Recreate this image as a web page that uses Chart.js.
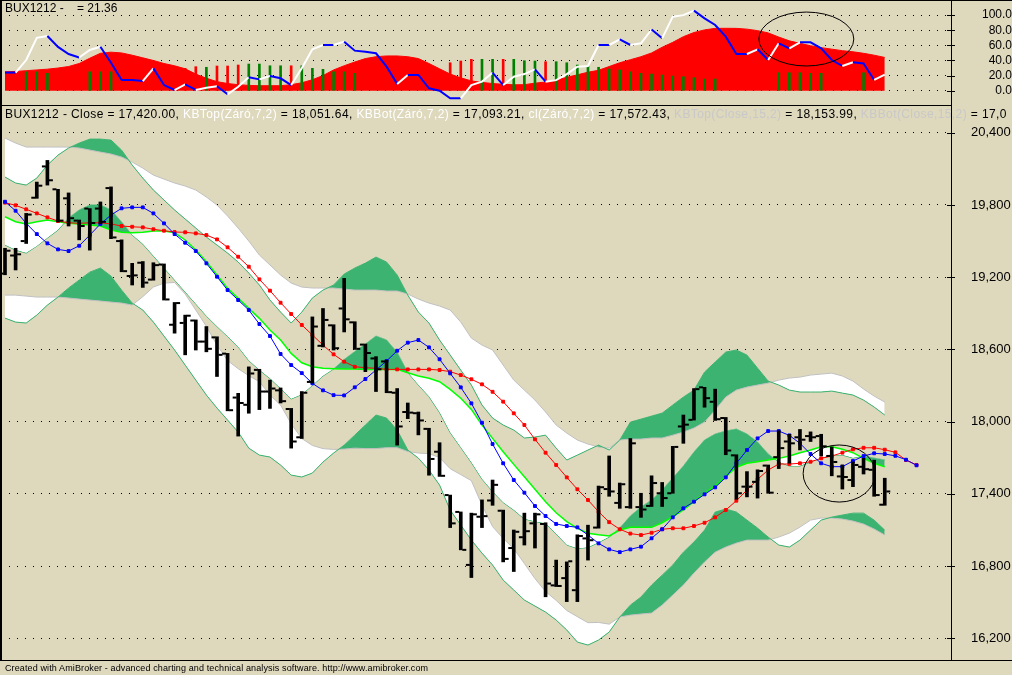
<!DOCTYPE html>
<html><head><meta charset="utf-8">
<script src="https://cdn.jsdelivr.net/npm/chart.js@4.4.1/dist/chart.umd.min.js"></script>
<style>
html,body{margin:0;padding:0;background:#ded8bd;width:1012px;height:675px;overflow:hidden;font-family:"Liberation Sans",Arial,sans-serif;}
canvas{position:absolute;left:0;}
#topc{top:0;}
#mainc{top:105px;}
.ln{position:absolute;background:#000;}
.hdr{position:absolute;white-space:nowrap;font-size:12px;line-height:14px;color:#000;}
.w{color:#ffffff;}
.s{color:#c8c8c8;}
#foot{position:absolute;left:5px;top:662px;font-size:9px;line-height:12px;letter-spacing:0.12px;white-space:nowrap;color:#000;}
</style></head>
<body>
<canvas id="topc" width="1012" height="106"></canvas>
<canvas id="mainc" width="1012" height="556"></canvas>
<div class="ln" style="left:0;top:0;width:1012px;height:1px"></div>
<div class="ln" style="left:0;top:0;width:2px;height:661px"></div>
<div class="ln" style="left:0;top:105px;width:951px;height:1px"></div>
<div class="ln" style="left:0;top:660px;width:1012px;height:1px"></div>
<div class="ln" style="left:951px;top:0;width:1px;height:661px"></div>
<div class="hdr" style="left:5px;top:1px;">BUX1212 -</div>
<div class="hdr" style="left:77px;top:1px;">= 21.36</div>
<div class="hdr" style="left:5px;top:107px;letter-spacing:0.4px;">BUX1212 - Close = 17,420.00, <span class="w">KBTop(Záró,7,2)</span> = 18,051.64, <span class="w">KBBot(Záró,7,2)</span> = 17,093.21, <span class="w">cl(Záró,7,2)</span> = 17,572.43, <span class="s">KBTop(Close,15,2)</span> = 18,153.99, <span class="s">KBBot(Close,15,2)</span> = 17,0</div>
<div id="foot">Created with AmiBroker - advanced charting and technical analysis software. http://www.amibroker.com</div>
<script>
// ---------- top panel data ----------
const redArea = [25,25.5,26.5,27.5,28.5,30,32,36,43,49.5, 51,50,47,43.5,40,36,33,29,22,16.5,
 12,9.5,8,7,6.6,6.6,6.6,8,10.5,14.5, 20,27.5,33,38,42.5,45,46,46,45,42.5,
 36,29,22,17,13,11,9.5,8.5,7.8,8, 10,11.5,14,17.7,21,24.5,27,32,37,41,
 45,50,57.5,64,71.5,77,80.5,82.5,82.6,82.5, 81.5,79.5,76.5,71,66,62.7,59.5,57,55,53,
 51.5,49.5,47,44];
const osc = [24,24,40.6,70,72.4,58,48.6,44,53.9,58.2, 37,14.2,14.2,12.8,29.6,7.5,0.9,8.4,1,4,
 6,-4.8,5.3,17.7,15,19.5,16.4,7.5,29.6,54.8, 60.5,60.5,64.9,53,51.6,49.5,31.8,8.9,20.8,20.8,
 3.2,0,-10,-10,7.5,12,23.8,7.5,18.5,22, 28.3,12,14,22,31.8,32.7,60.5,60.5,68,60.5,
 62.7,81,69.3,98,100,106,95.8,87,71.5,48.6, 48.6,54.8,40.6,62.7,56,64,64,56,40.6,32.7,
 37.6,36,14.2,21.36];
const histIdx = [2,3,4,8,9,10,17,18,19,20,21,22,23,24,25,26,27,28,29,30,31,32,33,42,43,44,45,46,47,48,49,50,51,52,53,54,55,56,57,58,59,60,61,62,63,64,65,66,67,73,74,75,76,77,81];
const histVal = [25,25,23,25,25,25,29.6,31.8,31,32.7,32.7,34,35.3,35.3,33,33,33,33,29.6,28.3,25,25,23,37,39.3,41.5,41.5,41.5,41.5,41.5,39.7,39.3,38.4,38.4,37,34,32.7,31,28.7,27.4,25,23,22,20.8,19.4,18.5,17.2,15.5,15.5,23.8,23.8,23.8,23,23,23.8];
const histDir = [1,1,1,1,1,1,-1,-1,1,-1,-1,-1,1,1,1,1,-1,1,1,1,1,1,1,-1,-1,-1,1,1,-1,1,1,1,-1,1,1,1,1,1,1,1,1,1,1,1,1,1,1,1,1,1,1,1,1,1,1];
const topTicks = [0,20,40,60,80,100];

// ---------- main panel data ----------
const open = [19230,19380,19500,19860,20120,19930,19855,19670,19770,19770, 19940,19500,19210,19320,19180,19305,18805,18820,18840,18665,
 18700,18565,18200,18140,18430,18250,18260,18105,17870,18330, 18630,18800,18940,18825,18640,18525,18500,18240,18080,18070,
 17940,17750,17390,17250,16810,17210,17345,17260,16950,17040, 17155,17150,16640,16700,16600,17030,17120,17440,17325,17290,
 17290,17300,17405,17405,17960,18015,18285,18165,18030,17720, 17460,17500,17635,17705,17835,17870,17880,17880,17715,17545,
 17515,17625,17600,17310];
const high = [19440,19440,19730,19990,20170,19930,19900,19675,19770,19825, 19950,19510,19315,19330,19320,19310,18990,18885,18845,18790,
 18705,18567,18235,18455,18435,18345,18280,18110,18250,18870, 18940,18805,19190,18830,18645,18540,18510,18275,18155,18080,
 17945,17825,17390,17250,17240,17350,17515,17265,17100,17240, 17240,17160,16850,16835,17060,17140,17465,17715,17490,17860,
 17405,17550,17495,17795,18055,18275,18285,18270,18035,17725, 17585,17600,17640,17925,17895,17935,17915,17895,17790,17640,
 17665,17695,17680,17530];
const low = [19220,19260,19480,19855,19965,19660,19625,19510,19425,19645, 19520,19245,19135,19115,19175,19010,18735,18555,18595,18580,
 18375,18090,17880,18070,18100,18110,18155,17780,17860,18320, 18620,18595,18745,18600,18415,18250,18240,17805,18025,17890,
 17555,17545,17120,16935,16705,17120,17305,16835,16755,16975, 16950,16545,16630,16505,16505,16850,17115,17380,17280,17280,
 17205,17295,17295,17405,17820,18013,18120,18010,17725,17355, 17375,17365,17405,17610,17655,17765,17835,17715,17550,17440,
 17460,17565,17380,17305];
const close = [19420,19390,19720,19960,20005,19670,19690,19625,19650,19660, 19530,19250,19215,19155,19300,19015,18985,18880,18665,18605,
 18555,18095,18155,18400,18250,18275,18170,17835,18240,18790, 18845,18610,18850,18605,18570,18435,18245,17960,18075,18010,
 17690,17550,17155,16935,17230,17215,17475,16860,17085,17090, 17230,16655,16635,16840,17050,17015,17455,17420,17480,17820,
 17270,17490,17365,17790,17975,18270,18195,18020,17760,17405, 17460,17590,17410,17780,17820,17850,17870,17795,17665,17540,
 17640,17605,17390,17420];
const blueLine = [19827,19752,19647,19558,19481,19431,19417,19461,19550,19642, 19716,19772,19780,19780,19730,19647,19558,19486,19417,19315,
 19204,19093,19010,18927,18811,18711,18562,18470,18403,18318, 18260,18220,18218,18285,18354,18429,18504,18589,18656,18678,
 18617,18518,18401,18285,18152,17991,17814,17654,17515,17410, 17299,17216,17150,17133,17122,17058,16989,16939,16916,16939,
 16961,17031,17106,17205,17280,17335,17396,17454,17537,17654, 17764,17861,17922,17922,17886,17820,17731,17654,17626,17626,
 17673,17714,17737,17731,17716,17684,17637];
const redLine = [19819,19797,19764,19730,19697,19666,19652,19647,19652,19652, 19642,19625,19619,19614,19598,19586,19575,19573,19564,19550,
 19514,19448,19370,19287,19182,19088,18988,18894,18803,18720, 18636,18559,18498,18456,18448,18443,18434,18434,18434,18434,
 18434,18429,18415,18387,18352,18310,18248,18166,18069,17972, 17853,17742,17640,17537,17438,17349,17252,17165,17106,17070,
 17058,17077,17106,17114,17114,17133,17160,17205,17266,17343, 17432,17521,17598,17648,17648,17654,17667,17695,17714,17742,
 17770,17783,17783,17767,17745,17681,17640];
const greenLine = [19702,19661,19642,19661,19675,19661,19647,19642,19633,19625, 19592,19573,19569,19573,19583,19583,19569,19509,19426,19328,
 19218,19107,19024,18941,18858,18761,18678,18567,18489,18456, 18443,18440,18437,18437,18434,18434,18434,18434,18406,18379,
 18360,18332,18268,18194,18102,17972,17861,17750,17645,17542, 17438,17335,17243,17169,17114,17072,17060,17050,17100,17122,
 17122,17122,17160,17210,17266,17335,17405,17466,17543,17621, 17654,17667,17681,17695,17714,17742,17764,17792,17792,17770,
 17742,17695,17654,17626];
const midB = [19467,19425,19400,19458,19525,19591,19691,19758,19799,19799, 19758,19658,19550,19475,19375,19276,19176,19076,18977,18877,
 18790,18707,18620,18507,18428,18358,18275,18188,18225,18300, 18379,18437,18516,18582,18644,18711,18678,18574,18408,18304,
 18208,18075,17909,17785,17660,17523,17419,17328,17265,17191, 17170,17153,17066,16975,16946,16954,16996,17041,17116,17216,
 17290,17348,17432,17531,17631,17747,17847,17897,17922,17938, 17897,17830,17731,17664,17631,17631,17664,17697,17722,17722,
 17697,17714,17697,17681];
const upA = [20356,20314,20281,20281,20281,20281,20281,20273,20256,20239, 20223,20198,20156,20106,20048,20015,19982,19957,19924,19866,
 19799,19708,19608,19500,19384,19301,19218,19151,19118,19110, 19110,19110,19101,19093,19093,19093,19085,19085,19060,19018,
 18985,18960,18927,18827,18694,18636,18595,18470,18345,18262, 18179,18080,17972,17905,17847,17814,17789,17780,17847,17855,
 17855,17864,17864,17888,17913,17947,17996,18096,18204,18262, 18287,18304,18320,18345,18362,18370,18387,18395,18403,18379,
 18337,18271,18212,18163];
const upB = [20032,19982,19965,20023,20131,20214,20273,20314,20347,20347, 20339,20256,20131,20023,19924,19841,19758,19683,19608,19533,
 19467,19400,19326,19234,19135,19010,18910,18819,18910,19027, 19093,19135,19226,19276,19317,19367,19326,19218,19051,18910,
 18819,18678,18553,18428,18304,18138,18030,17972,17930,17864, 17872,17888,17780,17681,17722,17764,17805,17764,17847,17996,
 18021,18046,18071,18138,18204,18262,18412,18495,18578,18595, 18553,18445,18337,18304,18262,18246,18246,18246,18254,18237,
 18221,18179,18121,18055];
const loA = [19051,19051,19043,19035,19035,19035,19027,19018,19010,19002, 18993,18985,18968,19038,19118,19151,19156,19060,18927,18791,
 18636,18507,18440,18382,18332,18221,18138,17983,17860,17802, 17776,17769,17772,17780,17776,17776,17784,17784,17752,17739,
 17734,17702,17609,17560,17510,17307,17128,17030,16945,16822, 16696,16589,16515,16431,16380,16330,16332,16318,16377,16393,
 16402,16410,16476,16559,16642,16742,16834,16916,16958,16991, 17016,17016,17016,17041,17074,17124,17182,17199,17199,17191,
 17174,17149,17108,17058];
const loB = [18860,18827,18819,18885,18968,19035,19110,19176,19242,19276, 19209,19093,18985,18927,18827,18711,18595,18470,18345,18221,
 18113,18013,17913,17780,17722,17706,17639,17556,17540,17573, 17664,17739,17805,17888,17972,18055,18030,17930,17764,17697,
 17598,17473,17265,17141,17016,16908,16809,16684,16601,16518, 16468,16418,16352,16269,16169,16144,16186,16252,16377,16476,
 16543,16642,16725,16809,16916,17000,17099,17249,17274,17249, 17182,17116,17041,16975,16958,17016,17099,17182,17207,17224,
 17240,17240,17182,17099];
const mainTicks = [16200,16800,17400,18000,18600,19200,19800,20400];

// ---------- helpers ----------
Chart.defaults.font.family = '"Liberation Sans", Arial, sans-serif';
const pts = arr => arr.map((v, i) => ({x: i, y: v}));
const SEA = '#3cb371';

const ohlcTicks = {
  id: 'ohlcTicks',
  afterDatasetsDraw(chart) {
    const {ctx, scales: {x, y}} = chart;
    ctx.save();
    ctx.fillStyle = '#000';
    for (let i = 0; i < close.length; i++) {
      const px = x.getPixelForValue(i);
      ctx.fillRect(px - 5.5, y.getPixelForValue(open[i]) - 1, 4, 2);
      ctx.fillRect(px + 1.5, y.getPixelForValue(close[i]) - 1, 4, 2);
    }
    ctx.restore();
  }
};
const axisMarks = {
  id: 'axisMarks',
  afterDraw(chart) {
    const {ctx} = chart; const s = chart.scales.y;
    ctx.save(); ctx.fillStyle = '#000';
    s.ticks.forEach(t => { const py = Math.round(s.getPixelForValue(t.value)); ctx.fillRect(s.left - 4, py, 8, 1); });
    ctx.restore();
  }
};
const ring = {
  id: 'ring',
  afterDraw(chart, args, o) {
    if (o.cx == null) return;
    const {ctx, scales: {x, y}} = chart;
    const cx = x.getPixelForValue(o.cx), cy = y.getPixelForValue(o.cy);
    const rx = Math.abs(x.getPixelForValue(o.cx + o.rx) - cx), ry = Math.abs(y.getPixelForValue(o.cy + o.ry) - cy);
    ctx.save(); ctx.strokeStyle = '#000'; ctx.lineWidth = 1;
    ctx.beginPath(); ctx.ellipse(cx, cy, rx, ry, 0, 0, Math.PI * 2); ctx.stroke(); ctx.restore();
  }
};
const fitY = s => { s.width = 61; s.paddingTop = 0; s.paddingBottom = 0; };
const xScale = { type: 'linear', display: false, min: -0.377, max: 89.25, offset: false, grid: {offset: false}, grace: 0 };

// ---------- top chart ----------
new Chart(document.getElementById('topc'), {
  type: 'line',
  data: { datasets: [
    { data: pts(osc), borderWidth: 2, pointRadius: 0, fill: false,
      segment: { borderColor: c => c.p1.parsed.y > c.p0.parsed.y ? '#ffffff' : '#0000ff' } },
    { type: 'bar', data: histIdx.map((k, j) => ({x: k, y: histVal[j]})), barThickness: 2,
      backgroundColor: histDir.map(d => d > 0 ? '#008000' : '#ff0000'), borderWidth: 0 },
    { data: pts(redArea), borderColor: '#ff0000', borderWidth: 1, pointRadius: 0,
      backgroundColor: '#ff0000', fill: 'origin' }
  ]},
  options: {
    animation: false, responsive: false, maintainAspectRatio: false, events: [],
    layout: { autoPadding: false, padding: { left: 1, right: 0, top: 1, bottom: 2 } },
    plugins: { legend: {display: false}, tooltip: {enabled: false}, title: {display: false},
      ring: { cx: 75.6, cy: 68.4, rx: 4.48, ry: 35.7 } },
    scales: {
      x: xScale,
      y: { position: 'right', min: -17.6, max: 118.73, offset: false, grace: 0, beginAtZero: false,
        afterFit: fitY,
        afterBuildTicks(s) { s.ticks = topTicks.map(v => ({value: v})); },
        grid: { color: '#000', drawTicks: false, lineWidth: 1, offset: false },
        border: { display: false, dash: [1, 7] },
        ticks: { color: '#000', font: {size: 12}, padding: 27, crossAlign: 'far', callback: v => v.toFixed(1) } }
    }
  },
  plugins: [ring, axisMarks]
});

// ---------- main chart ----------
new Chart(document.getElementById('mainc'), {
  type: 'line',
  data: { datasets: [
    { type: 'bar', data: low.map((l, i) => ({x: i, y: [l, high[i]]})), backgroundColor: '#000', barThickness: 3, borderWidth: 0, borderSkipped: false },
    { data: pts(blueLine), borderColor: '#0000ff', borderWidth: 1, pointStyle: 'rect', pointRadius: 2,
      pointBackgroundColor: '#0000ff', pointBorderColor: '#0000ff', pointBorderWidth: 1, fill: false },
    { data: pts(redLine), borderColor: '#ff0000', borderWidth: 1, pointStyle: 'rect', pointRadius: 2,
      pointBackgroundColor: '#ff0000', pointBorderColor: '#ff0000', pointBorderWidth: 1, fill: false },
    { data: pts(greenLine), borderColor: '#00ff00', borderWidth: 1.5, pointRadius: 0,
      fill: { target: 4, above: '#ffffff', below: SEA } },
    { data: pts(midB), borderColor: SEA, borderWidth: 1, pointRadius: 0, fill: false },
    { data: pts(upB), borderColor: SEA, borderWidth: 1, pointRadius: 0, fill: false },
    { data: pts(upA), borderColor: '#c0c0c0', borderWidth: 1, pointRadius: 0,
      fill: { target: 5, above: '#ffffff', below: SEA } },
    { data: pts(loB), borderColor: SEA, borderWidth: 1, pointRadius: 0, fill: false },
    { data: pts(loA), borderColor: '#c0c0c0', borderWidth: 1, pointRadius: 0,
      fill: { target: 7, above: '#ffffff', below: SEA } }
  ]},
  options: {
    animation: false, responsive: false, maintainAspectRatio: false, events: [],
    layout: { autoPadding: false, padding: { left: 1, right: 0, top: 1, bottom: 1 } },
    plugins: { legend: {display: false}, tooltip: {enabled: false}, title: {display: false},
      ring: { cx: 78.7, cy: 17569, rx: 3.4, ry: 237 } },
    scales: {
      x: xScale,
      y: { position: 'right', min: 16020, max: 20622, offset: false, grace: 0, beginAtZero: false,
        afterFit: fitY,
        afterBuildTicks(s) { s.ticks = mainTicks.map(v => ({value: v})); },
        grid: { color: '#000', drawTicks: false, lineWidth: 1, offset: false },
        border: { display: false, dash: [1, 7] },
        ticks: { color: '#000', font: {size: 13}, padding: 20, crossAlign: 'near',
          callback: v => v.toLocaleString('en-US') } }
    }
  },
  plugins: [ohlcTicks, ring, axisMarks]
});
</script>
</body></html>
